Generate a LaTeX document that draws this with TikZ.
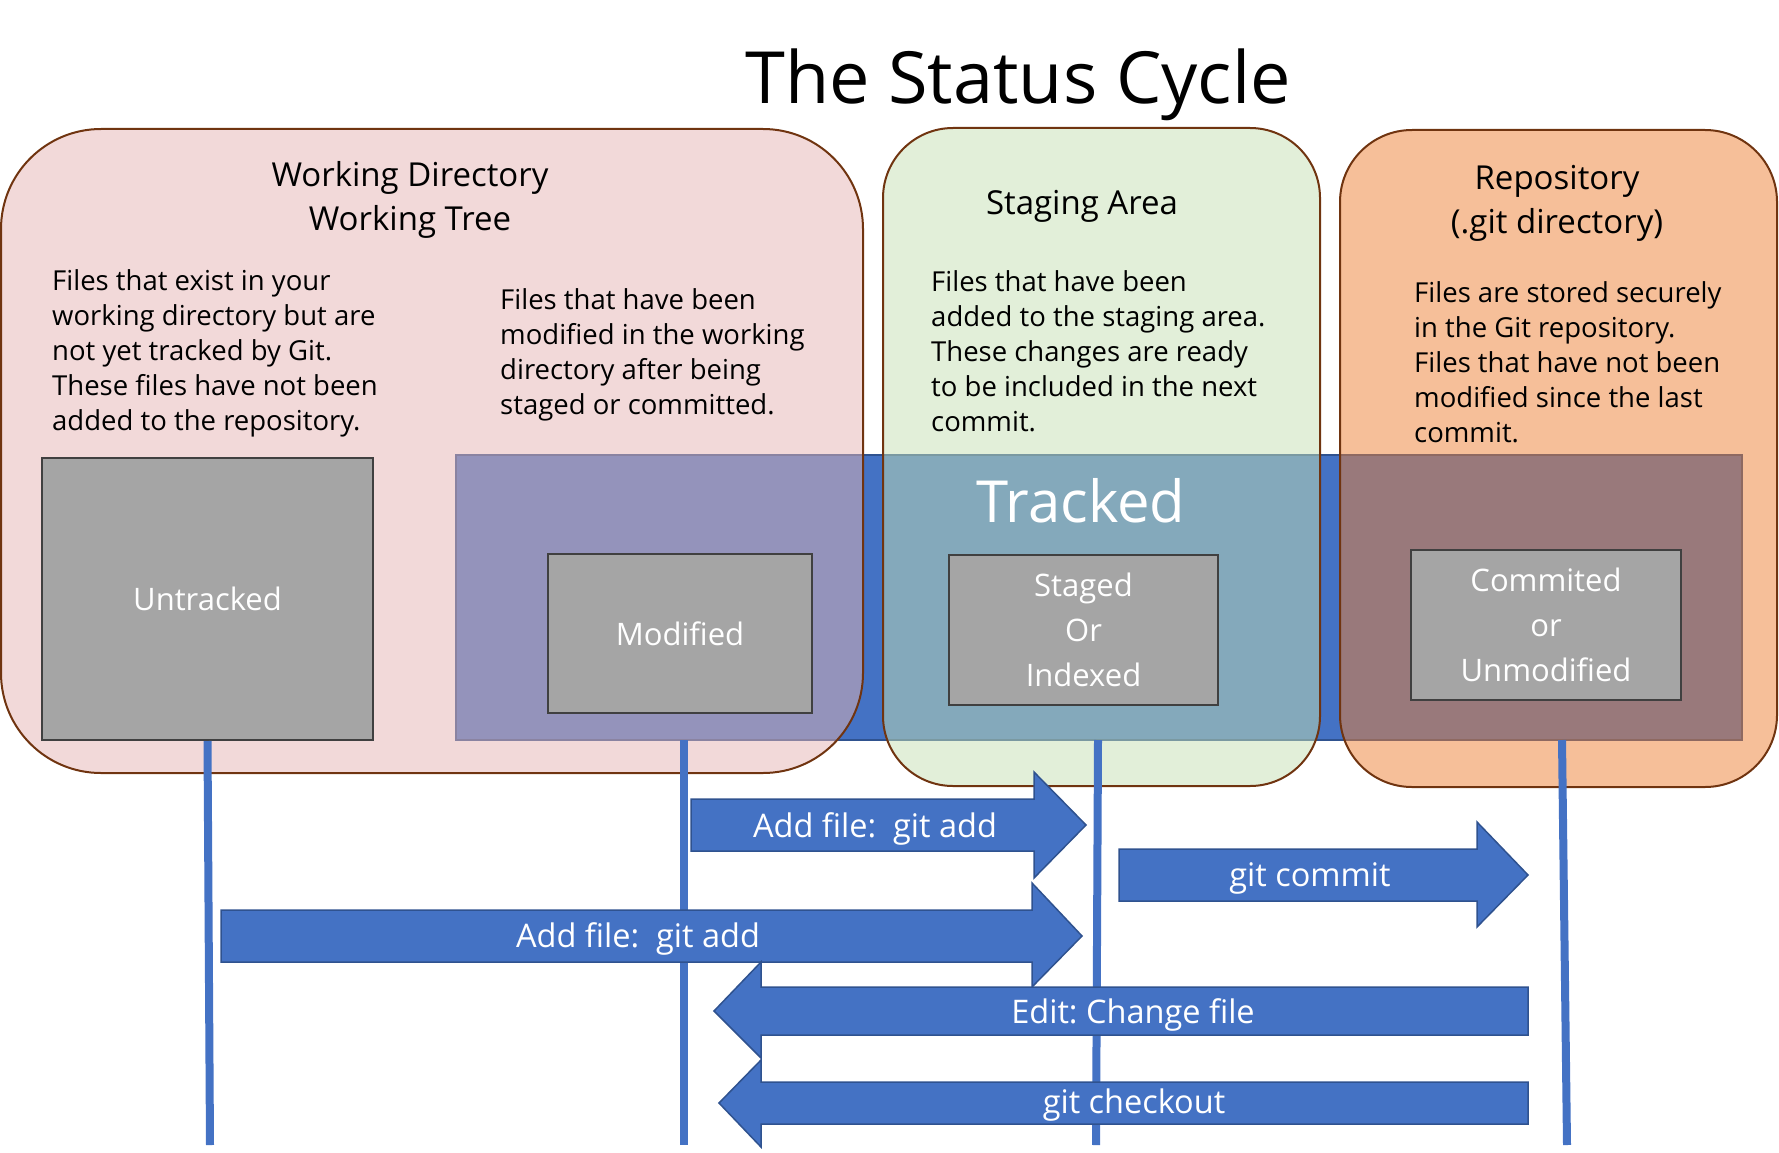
\documentclass[tikz,border=0pt]{standalone}
\usepackage{fontspec}
\setmainfont{Open Sans}
\usetikzlibrary{positioning}
\frenchspacing

\definecolor{trackblue}{HTML}{4472C4}
\definecolor{navyline}{HTML}{2F528F}
\definecolor{stategray}{HTML}{A5A5A5}
\definecolor{stateline}{HTML}{404040}
\definecolor{wdpink}{RGB}{229,180,180}
\definecolor{stgreen}{HTML}{C5E0B4}
\definecolor{repoorange}{RGB}{238,128,52}
\definecolor{arealine}{RGB}{112,52,16}

\tikzset{
 area/.style={draw=arealine, line width=2pt},
 statebox/.style={draw=stateline, line width=2pt, fill=stategray, text=white, align=center, inner sep=0pt,
  font=\fontsize{31}{45}\selectfont},
 areatitle/.style={anchor=base, align=center, inner sep=0pt, font=\fontsize{33}{44}\selectfont},
 blurb/.style={anchor=base west, align=left, inner sep=0pt, font=\fontsize{27.5}{35}\selectfont},
 blockarrow/.style={fill=trackblue, draw=navyline, line width=1.5pt},
 arrowtext/.style={anchor=base, text=white, inner sep=0pt, font=\fontsize{32.5}{36}\selectfont},
 lifeline/.style={draw=trackblue, line width=8pt}
}

\begin{document}
\begin{tikzpicture}[x=1pt, y=-1pt]
\useasboundingbox (0,0) rectangle (1779,1153);

\node[anchor=base, inner sep=0pt, font=\fontsize{72}{80}\selectfont] (title) at (1018,104) {The Status Cycle};

\filldraw[fill=trackblue, draw=navyline, line width=2pt] (456,455) rectangle (1742,740);

\filldraw[area, fill=wdpink, fill opacity=0.5, rounded corners=100pt] (1,129) rectangle (863,773);
\filldraw[area, fill=stgreen, fill opacity=0.5, rounded corners=70pt] (883,128) rectangle (1320,786);
\filldraw[area, fill=repoorange, fill opacity=0.5, rounded corners=72pt] (1340,130) rectangle (1777,787);

% multi-line nodes sit on their last line
\node[areatitle] (wdtitle) at (410,230) {Working Directory\\Working Tree};
\node[areatitle] (sttitle) at (1082,214) {Staging Area};
\node[areatitle] (repotitle) at (1557,233) {Repository\\(.git directory)};

\node[blurb] (wdtext) at (52,430) {Files that exist in your\\working directory but are\\not yet tracked by Git.\\These files have not been\\added to the repository.};
\node[blurb] (modtext) at (500,414) {Files that have been\\modified in the working\\directory after being\\staged or committed.};
\node[blurb] (sttext) at (931,431) {Files that have been\\added to the staging area.\\These changes are ready\\to be included in the next\\commit.};
\node[blurb] (repotext) at (1414,442) {Files are stored securely\\in the Git repository.\\Files that have not been\\modified since the last\\commit.};

\node[anchor=base, text=white, inner sep=0pt, font=\fontsize{58}{60}\selectfont] (tracked) at (1081,522) {Tracked};

\node[statebox, minimum width=331pt, minimum height=282pt] (untracked) at (207.5,599) {Untracked};
\node[statebox, minimum width=264pt, minimum height=159pt] (modified) at (680,633.5) {Modified};
\node[statebox, minimum width=269pt, minimum height=150pt] (staged) at (1083.5,630) {Staged\\Or\\Indexed};
\node[statebox, minimum width=270pt, minimum height=150pt] (commited) at (1546,625) {Commited\\or\\Unmodified};

\coordinate (untrackedend) at (210,1145);
\coordinate (modifiedtop) at (684,740);
\coordinate (modifiedend) at (684,1145);
\coordinate (stagedtop) at (1098,740);
\coordinate (stagedend) at (1096,1145);
\coordinate (commitedtop) at (1562,740);
\coordinate (commitedend) at (1567,1145);

\draw[lifeline] (untracked.south) -- (untrackedend);
\draw[lifeline] (modifiedtop) -- (modifiedend);
\draw[lifeline] (stagedtop) -- (stagedend);
\draw[lifeline] (commitedtop) -- (commitedend);

\foreach \xs/\xb/\xt/\yt/\yb/\ht/\hb in {691/1034/1086/799/851/772/878, 1119/1477/1528/849/901/822/927, 221/1032/1082/910/962/883/987, 1528/761/714/987/1035/962/1058, 1528/761/719/1082/1124/1060/1147} {
 \draw[blockarrow] (\xs,\yt) -- (\xb,\yt) -- (\xb,\ht) -- (\xt,{(\yt+\yb)/2}) -- (\xb,\hb) -- (\xb,\yb) -- (\xs,\yb) -- cycle;
}

\node[arrowtext] (addmod) at (875,837) {Add file:~~git add};
\node[arrowtext] (commit) at (1310,886) {git commit};
\node[arrowtext] (adduntr) at (638,947) {Add file:~~git add};
\node[arrowtext] (edit) at (1133,1023) {Edit: Change file};
\node[arrowtext] (checkout) at (1134,1113) {git checkout};

\end{tikzpicture}
\end{document}
